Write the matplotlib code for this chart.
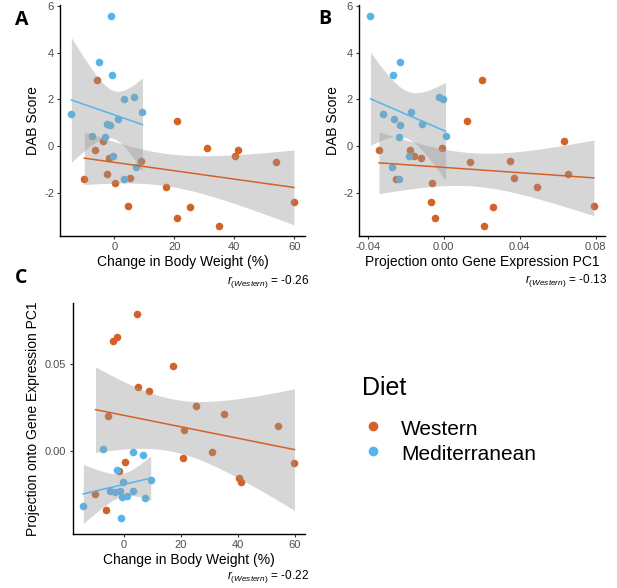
import numpy as np
import matplotlib.pyplot as plt
from matplotlib.lines import Line2D

plt.rcParams['font.family'] = ['Liberation Sans', 'DejaVu Sans']
plt.rcParams['mathtext.fontset'] = 'custom'
plt.rcParams['mathtext.it'] = 'Liberation Sans:italic'
plt.rcParams['mathtext.rm'] = 'Liberation Sans'
plt.rcParams['axes.unicode_minus'] = False

# datos (una fila por animal)
dietas = ['Western', 'Mediterranean']
colores = {'Western': '#D36227', 'Mediterranean': '#56B4E9'}

peso_med = [-1.1, -5.0, -0.8, 6.6, 3.3, 9.4, -14.3, 1.1, -2.3, -1.5, -7.4, -3.1, -0.4, 7.4, 3.1]
dab_med = [5.59, 3.60, 3.06, 2.10, 2.00, 1.46, 1.36, 1.17, 0.96, 0.91, 0.43, 0.40, -0.44, -0.89, -1.43]
pc1_med = [-0.0385, -0.0232, -0.0264, -0.0022, -0.0006, -0.0170, -0.0320, -0.0262, -0.0112, -0.0232,
           0.0010, -0.0235, -0.0180, -0.0270, -0.0233]

peso_west = [-5.7, 21.0, 30.8, 41.2, 40.4, -3.8, -6.3, -1.6, 8.9, 54.0,
             -10.0, -2.3, 5.1, 0.3, 17.1, 59.9, 4.7, 25.2, 20.8, 35.0]
dab_west = [2.83, 1.09, -0.07, -0.17, -0.43, 0.21, -0.16, -0.53, -0.66, -0.70,
            -1.43, -1.21, -1.36, -1.57, -1.76, -2.39, -2.55, -2.61, -3.06, -3.40]
pc1_west = [0.0200, 0.0122, -0.0007, -0.0179, -0.0157, 0.0634, -0.0340, -0.0118, 0.0348, 0.0141,
            -0.0251, 0.0655, 0.0368, -0.0063, 0.0492, -0.0069, 0.0790, 0.0261, -0.0043, 0.0210]

r_textos = ['-0.26', '-0.13', '-0.22']

# cuantil t al 97.5% segun grados de libertad
T975 = {13: 2.160, 18: 2.101}


def ajuste(x, y, n_puntos=80):
    x = np.asarray(x)
    y = np.asarray(y)
    n = len(x)
    b, a = np.polyfit(x, y, 1)
    xs = np.linspace(x.min(), x.max(), n_puntos)
    ys = a + b * xs
    resid = y - (a + b * x)
    s = np.sqrt(np.sum(resid ** 2) / (n - 2))
    se = s * np.sqrt(1.0 / n + (xs - x.mean()) ** 2 / np.sum((x - x.mean()) ** 2))
    t = T975[n - 2]
    return xs, ys, ys - t * se, ys + t * se


def panel(ax, x_west, y_west, x_med, y_med):
    ax.scatter(x_west, y_west, s=30, color=colores['Western'], linewidths=0, zorder=2)
    ax.scatter(x_med, y_med, s=30, color=colores['Mediterranean'], linewidths=0, zorder=2)
    for x, y, c in [(x_west, y_west, colores['Western']), (x_med, y_med, colores['Mediterranean'])]:
        xs, ys, lo, hi = ajuste(x, y)
        ax.fill_between(xs, lo, hi, color='#999999', alpha=0.4, linewidth=0, zorder=3)
        ax.plot(xs, ys, color=c, lw=1.1, zorder=4)
    ax.spines['top'].set_visible(False)
    ax.spines['right'].set_visible(False)
    ax.spines['left'].set_linewidth(1.0)
    ax.spines['bottom'].set_linewidth(1.0)
    ax.tick_params(length=2.5, width=0.8, color='#333333', labelsize=8, labelcolor='#4D4D4D', pad=2)


W, H = 617, 588
fig = plt.figure(figsize=(W / 100, H / 100), dpi=100)


def caja(izq, der, arriba, abajo):
    return [izq / W, 1 - abajo / H, (der - izq) / W, (abajo - arriba) / H]


def texto(x, y, s, **kw):
    fig.text(x / W, 1 - y / H, s, **kw)


axA = fig.add_axes(caja(60.3, 305, 5, 236))
axB = fig.add_axes(caja(359.3, 605, 5, 236))
axC = fig.add_axes(caja(72.7, 305, 303.3, 534))

panel(axA, peso_west, dab_west, peso_med, dab_med)
panel(axB, pc1_west, dab_west, pc1_med, dab_med)
panel(axC, peso_west, pc1_west, peso_med, pc1_med)

axA.set_xticks([0, 20, 40, 60])
axA.set_yticks([-2, 0, 2, 4, 6])
axB.set_xticks([-0.04, 0.0, 0.04, 0.08])
axB.set_xticklabels(['-0.04', '0.00', '0.04', '0.08'])
axB.set_yticks([-2, 0, 2, 4, 6])
axC.set_xticks([0, 20, 40, 60])
axC.set_yticks([0.0, 0.05])
axC.set_yticklabels(['0.00', '0.05'])

# titulos de ejes
texto(182.6, 266, 'Change in Body Weight (%)', fontsize=10, ha='center', va='baseline')
texto(482, 266, 'Projection onto Gene Expression PC1', fontsize=10, ha='center', va='baseline')
texto(188.9, 564, 'Change in Body Weight (%)', fontsize=10, ha='center', va='baseline')
texto(33, 120.5, 'DAB Score', fontsize=10, ha='center', va='center', rotation=90)
texto(333, 120.5, 'DAB Score', fontsize=10, ha='center', va='center', rotation=90)
texto(33, 418.7, 'Projection onto Gene Expression PC1', fontsize=10, ha='center', va='center', rotation=90)

# coeficientes
for (x, y), r in zip([(309, 284), (607, 283), (309, 579)], r_textos):
    texto(x, y, r'$r_{(Western)}$ = ' + r, fontsize=8.5, ha='right', va='baseline')

# letras de panel
for x, y, letra in [(15, 25, 'A'), (318, 24, 'B'), (15, 283, 'C')]:
    texto(x, y, letra, fontsize=14, fontweight='bold', family='Open Sans', va='baseline')

# leyenda
texto(361.7, 395, 'Diet', fontsize=18, va='baseline')
for dieta, y in zip(dietas, [426, 451]):
    fig.add_artist(Line2D([373.3 / W], [1 - y / H], marker='o', markersize=7, linestyle='none',
                          color=colores[dieta], markeredgewidth=0, transform=fig.transFigure))
for dieta, y in zip(dietas, [435, 460]):
    texto(401, y, dieta, fontsize=15, va='baseline')

fig.savefig('out.png', dpi=100)
